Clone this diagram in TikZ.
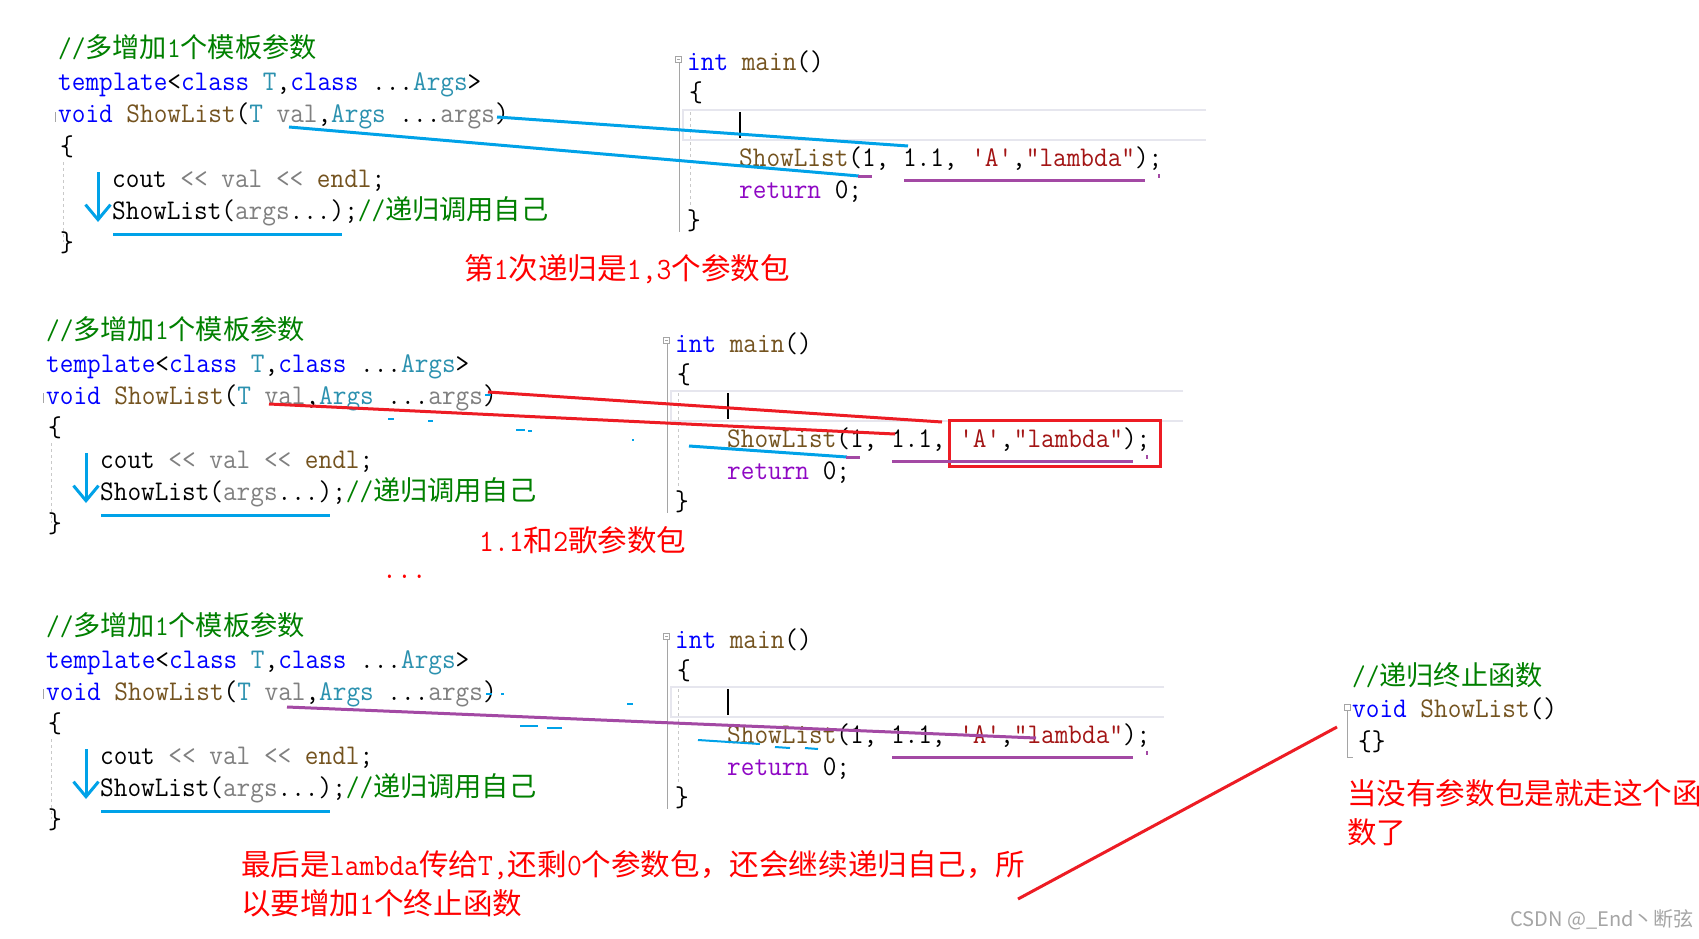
\documentclass[tikz,border=0pt]{standalone}
\usepackage{fontspec}
\setmonofont[FakeStretch=0.93]{Latin Modern Mono}
\newfontfamily\cjk[Scale=0.954]{Noto Sans CJK SC}
\usetikzlibrary{arrows.meta}

% editor colours
\definecolor{vsKeyword}{RGB}{0,0,255}
\definecolor{vsType}{RGB}{43,145,175}
\definecolor{vsParam}{RGB}{128,128,128}
\definecolor{vsFunc}{RGB}{116,83,31}
\definecolor{vsComment}{RGB}{0,128,0}
\definecolor{vsString}{RGB}{163,21,21}
\definecolor{vsReturn}{RGB}{143,8,196}
\definecolor{vsMargin}{RGB}{165,165,165}
\definecolor{vsLine}{RGB}{230,230,238}
% pen colours
\definecolor{penBlue}{RGB}{0,162,232}
\definecolor{penRed}{RGB}{237,28,36}
\definecolor{penPurple}{RGB}{163,73,164}
\definecolor{noteRed}{RGB}{255,0,0}
\definecolor{markGray}{RGB}{165,165,165}

\newcommand{\zh}[1]{{\cjk #1}}
\newcommand{\cKw}[1]{\textcolor{vsKeyword}{#1}}
\newcommand{\cTy}[1]{\textcolor{vsType}{#1}}
\newcommand{\cPa}[1]{\textcolor{vsParam}{#1}}
\newcommand{\cFn}[1]{\textcolor{vsFunc}{#1}}
\newcommand{\cCm}[1]{\textcolor{vsComment}{#1}}
\newcommand{\cSt}[1]{\textcolor{vsString}{#1}}
\newcommand{\cRt}[1]{\textcolor{vsReturn}{#1}}

\begin{document}
\begin{tikzpicture}[
    x=1pt, y=-1pt,
    % one line of editor text
    codeline/.style={
        anchor=base west,
        inner sep=0pt,
        text=black,
        font=\ttfamily\fontsize{28.5}{32}\selectfont
    },
    % hand-written red remark
    remark/.style={
        anchor=base west,
        inner sep=0pt,
        text=noteRed,
        font=\ttfamily\fontsize{31}{39}\selectfont
    },
    blueink/.style={draw=penBlue, line width=3pt},
    redink/.style={draw=penRed, line width=3pt},
    purpleink/.style={draw=penPurple, line width=3pt},
    foldline/.style={draw=vsMargin, line width=1pt},
    indentguide/.style={draw=vsMargin!60, line width=0.8pt, dash pattern=on 3pt off 3pt}
]

    \useasboundingbox (0,0) rectangle (1699,939);
    \fill[white] (0,0) rectangle (1699,939);

    % Three copies of the editor screenshot
    \foreach \dx/\dy/\rx/\blk in {0/0/1206/a, -12/281/1195/b, -12/577/1176/c}{
      \begin{scope}[shift={(\dx,\dy)}]
        % template function
        \node[codeline, text=vsComment] (cmt-\blk) at (58,58) {//\zh{多增加}1\zh{个模板参数}};
        \node[codeline] (tpl-\blk) at (58,91) {\cKw{template}<\cKw{class} \cTy{T},\cKw{class} ...\cTy{Args}>};
        \node[codeline] (sig-\blk) at (58,123) {\cKw{void} \cFn{ShowList}(\cTy{T} \cPa{val},\cTy{Args} ...\cPa{args})};
        \node[codeline] (open-\blk) at (60,155) {\{};
        \node[codeline] (cout-\blk) at (112,187) {cout \cPa{<<} \cPa{val} \cPa{<<} \cFn{endl};};
        \node[codeline] (call-\blk) at (112,219) {ShowList(\cPa{args}...);\cCm{//\zh{递归调用自己}}};
        \node[codeline] (close-\blk) at (60,251) {\}};
        \draw[foldline] (55,112) -- (55,122);
        \draw[indentguide] (63,162) -- (63,242);
        \draw[blueink, -{Straight Barb[length=15pt,width=25pt]}] (98,172) -- (98,222);
        \draw[blueink] (113,234) -- (342,234);

        % main function
        \node[codeline] (main-\blk) at (687,71) {\cKw{int} \cFn{main}()};
        \node[codeline] (mopen-\blk) at (689,102) {\{};
        \node[codeline] (mcall-\blk) at (739,166) {\cFn{ShowList}(1, 1.1, \cSt{'A'},\cSt{"lambda"});};
        \node[codeline] (mret-\blk) at (739,198) {\cRt{return} 0;};
        \node[codeline] (mclose-\blk) at (687,229) {\}};
        \draw[foldline] (675.5,56.5) rectangle (681.5,62.5);
        \draw[foldline] (677,59.5) -- (680,59.5);
        \draw[foldline] (679,62.5) -- (679,232);
        \draw[draw=vsLine, line width=2pt] (\rx,110) -- (683,110) -- (683,140) -- (\rx,140);
        \draw[indentguide] (690,112) -- (690,205);
        \draw[black, line width=1.5pt] (740,112) -- (740,138);
      \end{scope}
    }

    % first call: 1 goes to T
    \draw[blueink] (497,117) -- (908,146);
    \draw[blueink] (289,127) -- (859,176);
    \draw[purpleink] (858,176) -- (872,176);
    \draw[purpleink] (904,180) -- (1145,180);
    \draw[purpleink, line width=2pt] (1159,174) -- (1159,178);
    \node[remark] (step1) at (464,279) {\zh{第}1\zh{次递归是}1,3\zh{个参数包}};

    % second call: 1.1 goes to T
    \draw[redink] (488,392) -- (942,422);
    \draw[redink] (269,404) -- (895,434);
    \draw[redink] (949,420) rectangle (1160,466);
    \draw[blueink] (689,446) -- (847,457);
    \foreach \xa/\xb/\yy in {485/491/395, 388/394/419, 428/433/421, 516/525/430, 528/532/431, 632/634/440}
        \draw[penBlue, line width=2pt] (\xa,\yy) -- (\xb,\yy);
    \draw[purpleink] (846,457) -- (860,457);
    \draw[purpleink] (892,461) -- (1133,461);
    \draw[purpleink, line width=2pt] (1147,455) -- (1147,459);
    \node[remark] (step2) at (479,551) {1.1\zh{和}2\zh{歌参数包}};
    \node[remark] (dots) at (382,578) {...};

    % last call: lambda goes to T
    \draw[purpleink] (287,707) -- (1036,738);
    \foreach \xa/\xb/\yy in {486/492/694, 501/504/694, 627/633/704, 520/538/726, 547/562/728}
        \draw[penBlue, line width=2pt] (\xa,\yy) -- (\xb,\yy);
    \draw[blueink, line width=2pt] (698,740) -- (760,744);
    \draw[blueink, line width=2pt] (775,747) -- (790,748);
    \draw[blueink, line width=2pt] (805,748) -- (818,749);
    \draw[purpleink] (892,757) -- (1133,757);
    \draw[purpleink, line width=2pt] (1147,751) -- (1147,755);
    \node[remark] (last1) at (241,875) {\zh{最后是}lambda\zh{传给}T,\zh{还剩}0\zh{个参数包，还会继续递归自己，所}};
    \node[remark] (last2) at (241,914) {\zh{以要增加}1\zh{个终止函数}};

    % terminating overload
    \node[codeline, text=vsComment] (endcmt) at (1352,685) {//\zh{递归终止函数}};
    \node[codeline] (endsig) at (1352,717) {\cKw{void} \cFn{ShowList}()};
    \node[codeline] (endbody) at (1358,750) {\{\}};
    \draw[foldline] (1344,704) rectangle (1350,710);
    \draw[foldline] (1347,710) -- (1347,757) -- (1353,757);
    \draw[redink] (1018,899) -- (1337,727);
    \node[remark] (endnote1) at (1347,804) {\zh{当没有参数包是就走这个函}};
    \node[remark] (endnote2) at (1347,843) {\zh{数了}};

    \node[anchor=west, inner sep=0pt, text=markGray, font=\cjk\fontsize{21}{25}\selectfont] (mark) at (1510,920) {CSDN @\_End丶断弦};

\end{tikzpicture}
\end{document}
